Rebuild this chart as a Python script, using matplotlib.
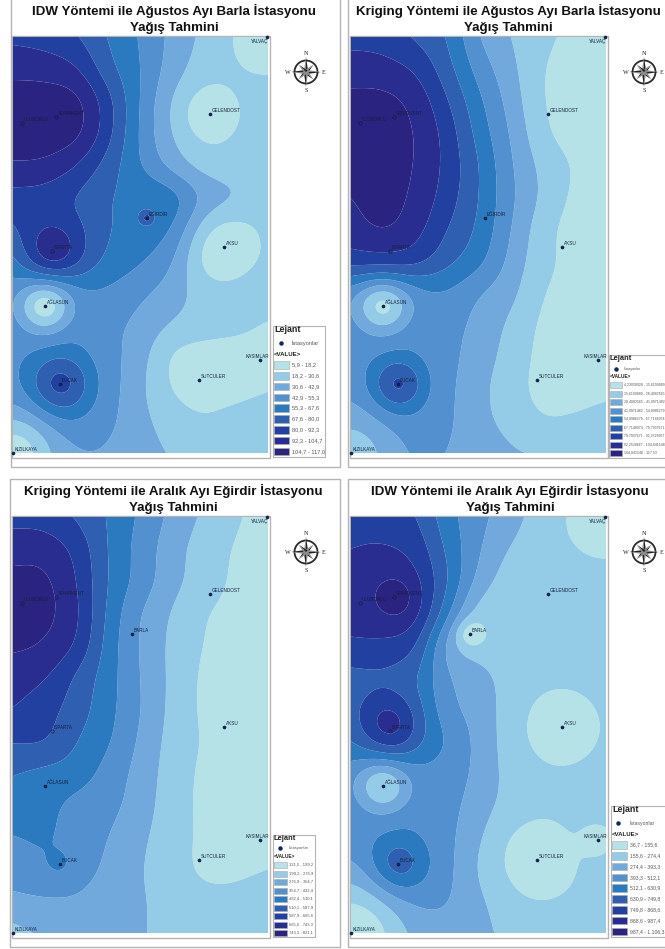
import numpy as np
import matplotlib
matplotlib.use("Agg")
import matplotlib.pyplot as plt
from matplotlib.patches import Rectangle, Circle, Polygon

W, H = 665, 949
COLORS = ['#B5E2E6', '#94CCE8', '#72A9DD', '#5390D0', '#2B7AC0',
          '#2F5FB0', '#2240A0', '#2A2D90', '#2A2480']

# station positions on the map (km-like map units, origin at the map's top-left)
STATIONS = {
    'YALVAÇ': (254, 0), 'GELENDOST': (197, 77), 'SENİRKENT': (43, 80), 'ULUBORLU': (9, 86),
    'EĞİRDİR': (134, 181), 'BARLA': (119, 117), 'ISPARTA': (39, 214), 'AKSU': (211, 210),
    'AĞLASUN': (32, 269), 'BUCAK': (47, 347), 'SUTCULER': (186, 343), 'KASIMLAR': (247, 323),
    'KIZILKAYA': (0, 416),
}
HOLLOW = ['SENİRKENT', 'ULUBORLU', 'ISPARTA']
GRID_STEP = 32
SMOOTH = 10.0

FIELD_IDW_AUG = [
    [6.8, 6.6, 6.1, 4.9, 3.9, 2.7, 1.8, 1.6, 1.6],
    [7.7, 7.6, 7.1, 5.3, 4.0, 2.5, 1.6, 1.5, 1.5],
    [8.5, 8.5, 8.3, 6.3, 3.9, 2.1, 1.5, 1.5, 1.5],
    [8.6, 8.6, 8.3, 6.3, 3.8, 2.1, 1.5, 1.5, 1.5],
    [7.9, 7.8, 7.0, 5.5, 4.0, 2.6, 1.6, 1.5, 1.5],
    [6.6, 6.5, 5.9, 5.0, 4.8, 4.5, 2.9, 2.2, 1.5],
    [5.8, 6.2, 6.0, 5.0, 4.7, 4.1, 2.1, 1.5, 1.5],
    [4.6, 5.7, 5.6, 4.7, 4.1, 3.2, 1.5, 1.5, 1.5],
    [3.7, 3.8, 3.9, 3.8, 3.2, 2.5, 1.7, 1.6, 1.6],
    [3.7, 3.7, 3.8, 3.3, 2.7, 1.9, 1.5, 1.3, 0.9],
    [3.7, 3.7, 3.7, 3.3, 2.4, 0.8, 0.5, 0.5, 0.6],
    [3.7, 3.7, 3.7, 3.3, 2.2, 0.9, 0.6, 0.6, 0.9],
    [3.7, 3.7, 3.7, 3.2, 2.3, 1.5, 1.1, 1.5, 1.8],
    [3.6, 3.5, 3.2, 2.9, 2.4, 1.9, 1.7, 1.7, 1.8],
]
FIELD_KRIG_AUG = [
    [6.7, 6.6, 5.9, 5.0, 3.0, 2.0, 1.2, 0.8, 0.7],
    [7.5, 7.4, 6.9, 5.4, 3.6, 2.3, 1.0, 0.7, 0.6],
    [8.3, 8.3, 7.7, 6.1, 4.2, 2.6, 1.0, 0.6, 0.5],
    [8.6, 8.5, 8.0, 6.6, 4.6, 2.9, 1.2, 0.6, 0.5],
    [8.5, 8.4, 8.0, 6.7, 5.0, 3.1, 1.7, 0.9, 0.6],
    [8.0, 8.4, 7.8, 6.5, 5.0, 3.2, 1.8, 0.8, 0.5],
    [7.6, 8.1, 7.4, 6.0, 4.8, 3.0, 1.4, 0.6, 0.4],
    [6.5, 6.6, 6.4, 5.3, 4.3, 2.7, 1.3, 0.7, 0.5],
    [3.7, 3.75, 3.8, 3.9, 3.05, 2.3, 1.0, 0.7, 0.5],
    [3.6, 3.6, 3.7, 3.4, 2.7, 1.8, 0.8, 0.6, 0.6],
    [3.6, 3.6, 3.6, 3.3, 2.5, 1.6, 0.7, 0.5, 0.5],
    [3.4, 3.6, 3.6, 3.2, 2.3, 1.4, 0.7, 0.5, 0.7],
    [3.3, 3.5, 3.6, 3.2, 2.3, 1.7, 1.05, 1.2, 1.5],
    [3.4, 3.2, 3.3, 3.0, 2.5, 2.1, 1.9, 1.7, 1.7],
]
FIELD_KRIG_DEC = [
    [6.7, 6.6, 5.9, 4.9, 3.8, 2.7, 1.8, 1.1, 0.6],
    [7.6, 7.6, 6.7, 4.9, 3.6, 2.4, 1.5, 0.9, 0.5],
    [8.3, 8.2, 7.0, 4.9, 3.6, 2.3, 1.5, 0.8, 0.5],
    [8.5, 8.3, 7.2, 4.7, 3.0, 1.9, 1.05, 0.7, 0.5],
    [8.2, 7.9, 6.9, 4.5, 2.9, 1.75, 0.95, 0.6, 0.5],
    [7.4, 7.1, 5.8, 4.4, 2.95, 1.75, 0.8, 0.5, 0.5],
    [7.0, 6.4, 5.5, 4.3, 3.0, 1.7, 0.8, 0.5, 0.5],
    [6.1, 6.1, 5.0, 4.1, 2.8, 1.6, 0.9, 0.5, 0.5],
    [5.0, 4.7, 4.5, 3.6, 2.6, 1.5, 0.8, 0.5, 0.5],
    [4.7, 4.3, 3.7, 3.3, 2.5, 1.4, 0.8, 0.5, 0.5],
    [3.95, 4.15, 3.55, 3.0, 2.2, 1.4, 0.8, 0.5, 0.5],
    [3.4, 3.75, 3.4, 2.8, 2.05, 1.4, 0.8, 0.8, 1.0],
    [2.8, 2.9, 2.9, 2.5, 2.1, 1.6, 1.3, 1.3, 1.5],
    [1.7, 2.2, 2.4, 2.3, 2.05, 1.8, 1.6, 1.6, 1.7],
]
FIELD_IDW_DEC = [
    [6.7, 6.6, 6.1, 4.4, 3.3, 2.4, 1.6, 1.6, 1.6],
    [7.0, 7.1, 6.7, 4.8, 3.1, 1.9, 1.5, 1.5, 1.5],
    [7.3, 7.5, 7.2, 5.1, 2.6, 1.5, 1.5, 1.5, 1.5],
    [7.2, 7.5, 7.3, 4.3, 1.5, 1.5, 1.5, 1.5, 1.5],
    [6.9, 6.8, 6.2, 2.7, 1.5, 1.5, 1.5, 1.5, 1.5],
    [5.6, 5.7, 5.1, 3.1, 2.4, 1.6, 1.5, 1.5, 1.5],
    [5.4, 5.7, 5.0, 3.3, 2.6, 1.7, 1.5, 1.5, 1.5],
    [4.6, 4.3, 4.4, 3.9, 2.7, 1.7, 1.5, 1.5, 1.5],
    [3.7, 3.6, 3.7, 3.6, 2.7, 1.7, 1.5, 1.5, 1.5],
    [3.7, 3.7, 3.7, 3.4, 2.5, 1.8, 1.5, 1.5, 1.5],
    [3.7, 3.7, 3.7, 3.3, 2.3, 1.6, 1.5, 1.5, 1.5],
    [3.5, 3.7, 3.7, 3.3, 2.1, 1.6, 1.5, 1.5, 1.6],
    [3.6, 3.7, 3.7, 3.2, 2.3, 1.7, 1.5, 1.5, 1.6],
    [3.5, 3.4, 3.2, 2.8, 2.3, 1.8, 1.7, 1.7, 1.7],
]

# local station anomalies: station, change at the station (classes), reach (map units)
ANOM_IDW_AUG = [('YALVAÇ', -1.4, 26), ('GELENDOST', -1.2, 22), ('EĞİRDİR', 1.6, 4.5), ('ISPARTA', 1.7, 20),
                ('AKSU', -1.2, 27), ('AĞLASUN', -3.2, 18), ('BUCAK', 2.6, 22), ('KIZILKAYA', -3.2, 30)]
ANOM_KRIG_AUG = [('AĞLASUN', -2.8, 18), ('BUCAK', 2.5, 19), ('KIZILKAYA', -1.8, 30)]
ANOM_KRIG_DEC = [('BUCAK', 0.5, 10)]
ANOM_IDW_DEC = [('YALVAÇ', -1.3, 30), ('SENİRKENT', 1.0, 16), ('BARLA', -1.4, 10.5), ('ISPARTA', 2.4, 22),
                ('AKSU', -1.1, 30), ('AĞLASUN', -2.6, 18), ('BUCAK', 2.0, 20), ('SUTCULER', -1.1, 33),
                ('KASIMLAR', -1.0, 11), ('KIZILKAYA', -3.4, 40)]

TITLES = ['IDW Yöntemi ile Ağustos Ayı Barla İstasyonu\nYağış Tahmini',
          'Kriging Yöntemi ile Ağustos Ayı Barla İstasyonu\nYağış Tahmini',
          'Kriging Yöntemi ile Aralık Ayı Eğirdir İstasyonu\nYağış Tahmini',
          'IDW Yöntemi ile Aralık Ayı Eğirdir İstasyonu\nYağış Tahmini']
LEGEND_IDW_AUG = ['5,9 - 18,2', '18,2 - 30,6', '30,6 - 42,9', '42,9 - 55,3', '55,3 - 67,6',
                  '67,6 - 80,0', '80,0 - 92,3', '92,3 - 104,7', '104,7 - 117,0']
LEGEND_KRIG_AUG = ['4,23058928 - 15,6190889', '15,6190889 - 28,4082565', '28,4082565 - 41,9971482',
                   '41,9971482 - 54,8986279', '54,8986279 - 67,7148974', '67,7148974 - 79,7937671',
                   '79,7937671 - 92,2528667', '92,2528667 - 104,841548', '104,841548 - 117,53']
LEGEND_KRIG_DEC = ['121,5 - 199,2', '199,2 - 276,9', '276,9 - 354,7', '354,7 - 432,4', '432,4 - 510,1',
                   '510,1 - 587,9', '587,9 - 665,6', '665,6 - 743,3', '743,3 - 821,1']
LEGEND_IDW_DEC = ['36,7 - 155,6', '155,6 - 274,4', '274,4 - 393,3', '393,3 - 512,1', '512,1 - 630,9',
                  '630,9 - 749,8', '749,8 - 868,6', '868,6 - 987,4', '987,4 - 1.106,3']

PANELS = [
    dict(field=FIELD_IDW_AUG, anom=ANOM_IDW_AUG, title=TITLES[0], leg=LEGEND_IDW_AUG, mid='EĞİRDİR',
         map=(13, 37), outer=(11, -2, 340, 467), inner_bottom=458, tc=174, ty=(11, 28),
         box=(273, 326, 325, 457), ly=(330, 343, 354), sw=(274, 289, 365, 10.8, 7.5), tx=292, fs=(5.4, 4.1, 4.4), mk=281, comp=(306, 72)),
    dict(field=FIELD_KRIG_AUG, anom=ANOM_KRIG_AUG, title=TITLES[1], leg=LEGEND_KRIG_AUG, mid='EĞİRDİR',
         map=(351, 37), outer=(348, -2, 670, 467), inner_bottom=458, tc=508, ty=(11, 28),
         box=(609, 355, 670, 458), ly=(359, 369, 377), sw=(610, 622, 385, 8.5, 6), tx=623.5, fs=(4.4, 2.5, 3.4), mk=615.5, comp=(644, 72)),
    dict(field=FIELD_KRIG_DEC, anom=ANOM_KRIG_DEC, title=TITLES[2], leg=LEGEND_KRIG_DEC, mid='BARLA',
         map=(13, 517), outer=(10, 479, 340, 947), inner_bottom=938, tc=173, ty=(491, 508),
         box=(273, 835, 315, 937), ly=(838.5, 848, 857), sw=(274, 287, 865, 8.5, 6), tx=289, fs=(4.4, 3.0, 3.4), mk=280, comp=(306, 552)),
    dict(field=FIELD_IDW_DEC, anom=ANOM_IDW_DEC, title=TITLES[3], leg=LEGEND_IDW_DEC, mid='BARLA',
         map=(351, 517), outer=(348, 479, 670, 947), inner_bottom=938, tc=510, ty=(491, 508),
         box=(611, 806, 670, 937), ly=(810, 823, 834), sw=(612, 627, 845, 10.8, 7.5), tx=629.5, fs=(5.4, 3.7, 4.4), mk=618, comp=(644, 552)),
]
MAP_W, MAP_H = 255, 416
GRAY = '#B4B4B4'
SANS = 'Liberation Sans'


def catmull(v, t):
    """Cubic interpolation along the first axis of v, at fractional indices t."""
    i = np.clip(np.floor(t).astype(int), 0, v.shape[0] - 2)
    f = (t - i).reshape((-1,) + (1,) * (v.ndim - 1))
    p1, p2 = v[i], v[i + 1]
    p0 = v[np.maximum(i - 1, 0)]
    p3 = v[np.minimum(i + 2, v.shape[0] - 1)]
    return 0.5 * (2 * p1 + (p2 - p0) * f + (2 * p0 - 5 * p1 + 4 * p2 - p3) * f ** 2
                  + (3 * p1 - p0 - 3 * p2 + p3) * f ** 3)


def blur(z, s):
    n = int(3 * s)
    k = np.exp(-np.arange(-n, n + 1) ** 2 / (2 * s * s))
    k /= k.sum()
    pad = np.pad(z, n, mode='reflect', reflect_type='odd')
    pad = np.apply_along_axis(lambda r: np.convolve(r, k, mode='same'), 0, pad)
    pad = np.apply_along_axis(lambda r: np.convolve(r, k, mode='same'), 1, pad)
    return pad[n:-n, n:-n]


def surface(field, anomalies):
    base = np.array(field, dtype=float)
    xs = np.arange(0, MAP_W + 1)
    ys = np.arange(0, MAP_H + 1)
    z = catmull(base, ys / GRID_STEP)
    z = catmull(z.T, xs / GRID_STEP).T
    z = blur(z, SMOOTH)
    X, Y = np.meshgrid(xs, ys)
    for name, amp, reach in anomalies:
        sx, sy = STATIONS[name]
        z = z + amp * np.exp(-((X - sx) ** 2 + (Y - sy) ** 2) / (2.0 * reach ** 2))
    return X, Y, z


def compass(bg, cx, cy):
    bg.add_patch(Circle((cx, cy), 11.5, fc='white', ec='#2a2a2a', lw=1.3, zorder=3))
    for k in range(8):
        a = k * np.pi / 4
        ln = 15 if k % 2 == 0 else 10.5
        tip = (cx + ln * np.sin(a), cy - ln * np.cos(a))
        for s, col in ((1, '#222222'), (-1, '#8a8a8a')):
            side = (cx + 2.2 * np.sin(a + s * np.pi / 2), cy - 2.2 * np.cos(a + s * np.pi / 2))
            bg.add_patch(Polygon([(cx, cy), tip, side], fc=col, ec='none', zorder=4))
    for lab, dx, dy in (('N', 0, -18.5), ('S', 0, 18.5), ('W', -18, 0), ('E', 18, 0)):
        bg.text(cx + dx, cy + dy, lab, ha='center', va='center', fontsize=4.4,
                family='Liberation Serif', color='#222222', zorder=5)


fig = plt.figure(figsize=(W / 100, H / 100), dpi=100, facecolor='white')
bg = fig.add_axes([0, 0, 1, 1])
bg.set_xlim(0, W)
bg.set_ylim(H, 0)
bg.axis('off')

for p in PANELS:
    x0, y0, x1, y1 = p['outer']
    bg.add_patch(Rectangle((x0, y0), x1 - x0, y1 - y0, fc='white', ec=GRAY, lw=1.0, zorder=0))
    mx, my = p['map']
    bg.add_patch(Rectangle((mx - 1, my - 1), MAP_W + 2.5, p['inner_bottom'] - my + 1, fc='white',
                           ec=GRAY, lw=1.0, zorder=1))
    for line, ty in zip(p['title'].split('\n'), p['ty']):
        bg.text(p['tc'], ty, line, ha='center', va='center', fontsize=9.6, fontweight='bold', family=SANS, color='#111111')

    ax = fig.add_axes([mx / W, 1 - (my + MAP_H) / H, MAP_W / W, MAP_H / H])
    X, Y, Z = surface(p['field'], p['anom'])
    ax.contourf(X, Y, Z, levels=[-99, 1, 2, 3, 4, 5, 6, 7, 8, 99], colors=COLORS, antialiased=True)
    ax.set_xlim(0, MAP_W)
    ax.set_ylim(MAP_H, 0)
    ax.axis('off')
    for name, (sx, sy) in STATIONS.items():
        if name == 'BARLA' and p['mid'] != 'BARLA':
            continue
        if name == 'EĞİRDİR' and p['mid'] != 'EĞİRDİR':
            continue
        hollow = name in HOLLOW
        ax.plot([sx], [sy], 'o', ms=2.2 if not hollow else 2.4, mfc='none' if hollow else '#0B2A5A',
                mec='#101535', mew=0.4, clip_on=False, zorder=6)
        if name == 'YALVAÇ':
            tx, ty, ha = sx + 1, sy + 5, 'right'
        elif name == 'KASIMLAR':
            tx, ty, ha = sx + 9, sy - 4, 'right'
        else:
            tx, ty, ha = sx + 2, sy - 3.5, 'left'
        ax.text(tx, ty, name, fontsize=3.3, ha=ha, va='center', family=SANS, color='#14203C',
                clip_on=False, zorder=7)

    bx0, by0, bx1, by1 = p['box']
    bg.add_patch(Rectangle((bx0, by0), bx1 - bx0, by1 - by0, fc='white', ec=GRAY, lw=0.8, zorder=2))
    ty0, ty1, ty2 = p['ly']
    fa, fb, fc_ = p['fs']
    bg.text(bx0 + 1, ty0, 'Lejant', fontsize=fa + 1, fontweight='bold', family=SANS, va='center', color='#222222', zorder=3)
    bg.plot([p['mk']], [ty1], 'o', ms=2.2, color='#0B2A5A', zorder=3)
    bg.text(p['tx'], ty1, 'İstasyonlar', fontsize=fb, family=SANS, va='center', color='#555555', zorder=3)
    bg.text(bx0 + 1, ty2, '<VALUE>', fontsize=fc_, fontweight='bold', family=SANS, va='center', color='#222222', zorder=3)
    sx0, sx1, sy0, step, hh = p['sw']
    for i, (lab, col) in enumerate(zip(p['leg'], COLORS)):
        yc = sy0 + i * step
        bg.add_patch(Rectangle((sx0, yc - hh / 2), sx1 - sx0, hh, fc=col, ec='#AAAAAA', lw=0.4, zorder=3))
        bg.text(p['tx'], yc, lab, fontsize=fb, family=SANS, va='center', color='#555555', zorder=3)
    compass(bg, *p['comp'])

fig.savefig('out.png', dpi=100, facecolor='white')
